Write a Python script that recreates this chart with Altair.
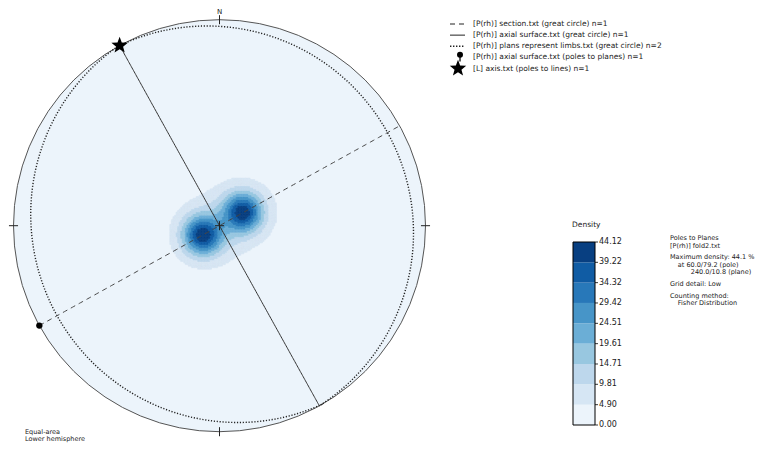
import numpy as np
import pandas as pd
import altair as alt

# ---------------- values ----------------
# great circles: (dip direction, dip) in degrees
section_planes = [(331.0, 90.0)]            # dashed
axial_planes = [(61.0, 90.0)]               # solid
limb_planes = [(240.0, 10.8), (61.0, 7.5)]  # dotted
# poles to planes: axial surface (dip direction, dip)
axial_pole_planes = [(61.0, 90.0)]
# lines: (trend, plunge)
axis_lines = [(331.0, 0.0)]
# planes of fold2.txt whose poles are contoured
fold2_planes = [(240.0, 10.8), (61.0, 7.5)]
density_levels = [0.00, 4.90, 9.81, 14.71, 19.61, 24.51, 29.42, 34.32, 39.22, 44.12]

legend_labels = [
    "[P(rh)] section.txt (great circle) n=1",
    "[P(rh)] axial surface.txt (great circle) n=1",
    "[P(rh)] plans represent limbs.txt (great circle) n=2",
    "[P(rh)] axial surface.txt (poles to planes) n=1",
    "[L] axis.txt (poles to lines) n=1",
]
info_lines = [
    "Poles to Planes",
    "[P(rh)] fold2.txt",
    "",
    "Maximum density: 44.1 %",
    "   at 60.0/79.2 (pole)",
    "        240.0/10.8 (plane)",
    "",
    "Grid detail: Low",
    "",
    "Counting method:",
    "   Fisher Distribution",
]
corner_lines = ["Equal-area", "Lower hemisphere"]

# ---------------- style ----------------
band_colors = ["#ecf4fb", "#d6e6f4", "#bdd7ec", "#98c7e0", "#6baed6",
               "#4795c8", "#2878b9", "#105ca4", "#083f81"]
FONT = "DejaVu Sans"
FS = 7.5
FS_SMALL = 6.5
W, H = 767, 436
CX, CY, R = 211.5, 217.7, 206.0
# Fisher counting kernel: (weight, concentration) components
KERNEL = [(0.8, 125.0), (0.2, 31.0)]

# five-pointed star as a custom symbol path (unit box)
_ang = np.radians(-90 + 36 * np.arange(10))
_rad = np.where(np.arange(10) % 2 == 0, 1.0, 0.42)
STAR = "M" + "L".join(f"{r * np.cos(a):.3f},{r * np.sin(a):.3f}" for r, a in zip(_rad, _ang)) + "Z"

xs = alt.Scale(domain=[-CX / R, (W - CX) / R], nice=False, zero=False)
ys = alt.Scale(domain=[-(H - CY) / R, CY / R], nice=False, zero=False)


# ---------------- stereonet geometry ----------------
def plane_vectors(dd, dip, n=241):
    t = np.linspace(0, np.pi, n)
    ddr, dr = np.radians(dd), np.radians(dip)
    s = np.array([np.sin(ddr - np.pi / 2), np.cos(ddr - np.pi / 2), 0.0])
    d = np.array([np.cos(dr) * np.sin(ddr), np.cos(dr) * np.cos(ddr), np.sin(dr)])
    return np.outer(np.cos(t), s) + np.outer(np.sin(t), d)


def line_vector(trend, plunge):
    tr, pr = np.radians(trend), np.radians(plunge)
    return np.array([np.cos(pr) * np.sin(tr), np.cos(pr) * np.cos(tr), np.sin(pr)])


def pole_vector(dd, dip):
    return line_vector(dd + 180.0, 90.0 - dip)


def project(v):
    v = np.atleast_2d(v)
    f = 1.0 / np.sqrt(1.0 + v[:, 2])
    return v[:, 0] * f, v[:, 1] * f


def gc_df(planes):
    parts = []
    for gi, (dd, dip) in enumerate(planes):
        x, y = project(plane_vectors(dd, dip))
        parts.append(pd.DataFrame({"x": x, "y": y, "i": np.arange(len(x)), "g": gi}))
    return pd.concat(parts, ignore_index=True)


def pts_df(vecs):
    x, y = project(np.array(vecs))
    return pd.DataFrame({"x": x, "y": y})


# density: Fisher kernel on the poles of fold2.txt
step = 0.0075
g = np.arange(-0.5, 0.5 + step / 2, step)
GX, GY = np.meshgrid(g, g)
vz = 1.0 - (GX ** 2 + GY ** 2)
f = np.sqrt(1.0 + vz)
V = np.stack([GX * f, GY * f, vz], axis=-1)
dens = np.zeros_like(GX)
for dd, dip in fold2_planes:
    c = np.abs(V @ pole_vector(dd, dip))
    for w, k in KERNEL:
        dens += w * np.exp(k * (c - 1.0))
dens *= density_levels[-1] / dens.max()
m = dens >= density_levels[1]
dens_df = pd.DataFrame({
    "x": GX[m] - step / 2, "x2": GX[m] + step / 2,
    "y": GY[m] - step / 2, "y2": GY[m] + step / 2, "d": dens[m],
})

thr = alt.Scale(type="threshold", domain=density_levels[1:-1], range=band_colors)

X = lambda f_: alt.X(f_, scale=xs, axis=None)
Y = lambda f_: alt.Y(f_, scale=ys, axis=None)

# net background + primitive
net_circle = alt.Chart(pd.DataFrame({"x": [0.0], "y": [0.0]})).mark_point(
    shape="circle", size=(2 * R) ** 2, filled=True, fill=band_colors[0],
    stroke="#555", strokeWidth=1, opacity=1, fillOpacity=1
).encode(x=X("x:Q"), y=Y("y:Q"))

density_layer = alt.Chart(dens_df).mark_rect(strokeWidth=0.6).encode(
    x=X("x:Q"), x2="x2:Q", y=Y("y:Q"), y2="y2:Q",
    color=alt.Color("d:Q", scale=thr, legend=None),
    stroke=alt.Stroke("d:Q", scale=thr, legend=None),
)


def gc_layer(planes, **kw):
    return alt.Chart(gc_df(planes)).mark_line(**kw).encode(
        x=X("x:Q"), y=Y("y:Q"), order="i:Q", detail="g:N")


dotted = gc_layer(limb_planes, color="#222", strokeWidth=1.4, strokeDash=[1.2, 1.7])
dashed = gc_layer(section_planes, color="#444", strokeWidth=1, strokeDash=[5, 4])
solid = gc_layer(axial_planes, color="#333", strokeWidth=1)

pole_pts = alt.Chart(pts_df([pole_vector(dd, dip) for dd, dip in axial_pole_planes])).mark_point(
    shape="circle", size=40, filled=True, color="#000", opacity=1
).encode(x=X("x:Q"), y=Y("y:Q"))

star_pts = alt.Chart(pts_df([line_vector(t, p) for t, p in axis_lines])).mark_point(
    shape=STAR, size=300, filled=True, color="#000", opacity=1
).encode(x=X("x:Q"), y=Y("y:Q"))

# cardinal ticks and centre cross
tk = 0.022
card = [0, 90, 180, 270]
tick_df = pd.DataFrame({
    "x": [(1 - tk) * np.sin(np.radians(a)) for a in card] + [-tk, 0.0],
    "x2": [(1 + tk) * np.sin(np.radians(a)) for a in card] + [tk, 0.0],
    "y": [(1 - tk) * np.cos(np.radians(a)) for a in card] + [0.0, -tk],
    "y2": [(1 + tk) * np.cos(np.radians(a)) for a in card] + [0.0, tk],
})
ticks = alt.Chart(tick_df).mark_rule(color="#222", strokeWidth=1).encode(
    x=X("x:Q"), x2="x2:Q", y=Y("y:Q"), y2="y2:Q")

north = alt.Chart(pd.DataFrame({"x": [0.0], "y": [1.0], "t": ["N"]})).mark_text(
    font=FONT, fontSize=7, dy=-8, color="#222"
).encode(x=X("x:Q"), y=Y("y:Q"), text="t:N")

# ---------------- legend ----------------
leg_df = pd.DataFrame({"row": np.arange(len(legend_labels)), "label": legend_labels})
rows = alt.Scale(domain=[0, 4], range=[16, 60.5], nice=False, zero=False)
RY = alt.Y("row:Q", scale=rows, axis=None)
leg_base = alt.Chart(leg_df)
leg_text = leg_base.mark_text(align="left", baseline="middle", font=FONT, fontSize=FS,
                              color="#222").encode(x=alt.value(465), y=RY, text="label:N")
leg_dash = leg_base.transform_filter("datum.row == 0").mark_rule(
    color="#222", strokeWidth=1, strokeDash=[5, 4]).encode(x=alt.value(442), x2=alt.value(457), y=RY)
leg_solid = leg_base.transform_filter("datum.row == 1").mark_rule(
    color="#222", strokeWidth=1).encode(x=alt.value(442), x2=alt.value(457), y=RY)
leg_dot = leg_base.transform_filter("datum.row == 2").mark_rule(
    color="#222", strokeWidth=1.6, strokeDash=[1.4, 1.6]).encode(x=alt.value(442), x2=alt.value(457), y=RY)
leg_pole = leg_base.transform_filter("datum.row == 3").mark_point(
    shape="circle", size=36, filled=True, color="#000", opacity=1, yOffset=-2.7
).encode(x=alt.value(452), y=RY)
leg_stick = leg_base.transform_filter("datum.row == 3").mark_point(
    shape="M0,-0.4L0,0.6", size=196, filled=False, color="#000", strokeWidth=1.3, opacity=1
).encode(x=alt.value(452), y=RY)
leg_star = leg_base.transform_filter("datum.row == 4").mark_point(
    shape=STAR, size=300, filled=True, color="#000", opacity=1
).encode(x=alt.value(450), y=RY)

# ---------------- colorbar ----------------
cb = alt.Scale(domain=[density_levels[0], density_levels[-1]], range=[417, 234], nice=False, zero=False)
band_df = pd.DataFrame({
    "lo": density_levels[:-1], "hi": density_levels[1:],
    "mid": [(a + b) / 2 for a, b in zip(density_levels[:-1], density_levels[1:])],
})
cbar = alt.Chart(band_df).mark_rect().encode(
    x=alt.value(565), x2=alt.value(587),
    y=alt.Y("lo:Q", scale=cb, axis=None), y2="hi:Q",
    color=alt.Color("mid:Q", scale=thr, legend=None))
cbar_frame = alt.Chart(pd.DataFrame({"lo": [density_levels[0]], "hi": [density_levels[-1]]})).mark_rect(
    fillOpacity=0, stroke="#000", strokeWidth=1).encode(
    x=alt.value(565), x2=alt.value(587), y=alt.Y("lo:Q", scale=cb, axis=None), y2="hi:Q")
lev_df = pd.DataFrame({"v": density_levels, "lab": [f"{v:.2f}" for v in density_levels]})
cbar_ticks = alt.Chart(lev_df).mark_rule(color="#000", strokeWidth=0.8).encode(
    x=alt.value(587), x2=alt.value(590), y=alt.Y("v:Q", scale=cb, axis=None))
cbar_labels = alt.Chart(lev_df).mark_text(align="left", baseline="middle", font=FONT,
                                          fontSize=8, color="#222").encode(
    x=alt.value(591), y=alt.Y("v:Q", scale=cb, axis=None), text="lab:N")
cbar_title = alt.Chart(pd.DataFrame({"t": ["Density"]})).mark_text(
    align="left", baseline="middle", font=FONT, fontSize=FS, color="#222"
).encode(x=alt.value(564), y=alt.value(217), text="t:N")

# ---------------- info text ----------------
pos, info_rows = 0.0, []
for line in info_lines:
    if line.strip():
        info_rows.append({"pos": pos, "ind": len(line) - len(line.lstrip(" ")), "t": line.strip()})
        pos += 1.0
    else:
        pos += 0.55
info_df = pd.DataFrame(info_rows)
info = alt.Chart(info_df).mark_text(align="left", baseline="middle", font=FONT,
                                    fontSize=FS_SMALL, color="#222").encode(
    x=alt.X("ind:Q", scale=alt.Scale(domain=[0, 10], range=[662, 688], nice=False, zero=False), axis=None),
    y=alt.Y("pos:Q", scale=alt.Scale(domain=[0, 1], range=[230.3, 237.8], nice=False, zero=False), axis=None),
    text="t:N")

corner_df = pd.DataFrame({"row": np.arange(len(corner_lines)), "t": corner_lines})
corner = alt.Chart(corner_df).mark_text(align="left", baseline="middle", font=FONT,
                                        fontSize=FS_SMALL, color="#222").encode(
    x=alt.value(17),
    y=alt.Y("row:Q", scale=alt.Scale(domain=[0, 1], range=[423.5, 431], nice=False, zero=False), axis=None),
    text="t:N")

chart = alt.layer(
    net_circle, density_layer, dotted, dashed, solid, ticks, north, pole_pts, star_pts,
    leg_text, leg_dash, leg_solid, leg_dot, leg_pole, leg_stick, leg_star,
    cbar, cbar_frame, cbar_ticks, cbar_labels, cbar_title, info, corner,
).resolve_scale(
    x="independent", y="independent", color="independent", stroke="independent"
).properties(
    width=W, height=H, padding=0, autosize=alt.AutoSizeParams(type="none"),
    background="white"
).configure_view(stroke=None)

chart.save("out.html", embed_options={"renderer": "svg", "actions": False})
